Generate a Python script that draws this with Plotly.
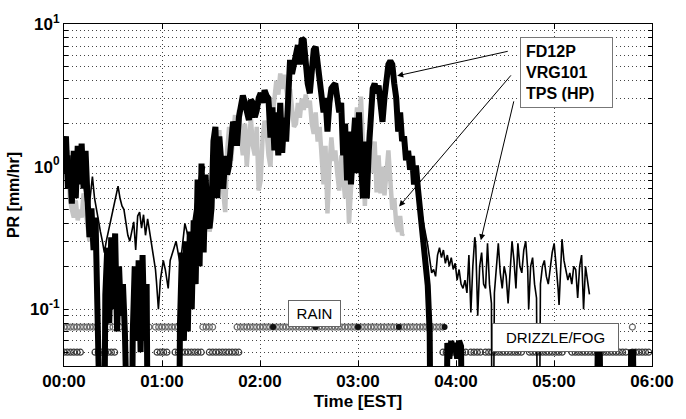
import math
import plotly.graph_objects as go

# ---------------- data (time in minutes after 00:00 EST, PR in mm/hr; 0 = no precipitation) ----------------
fd_t = [0.0, 1.2, 2.4, 3.6, 4.8, 6.0, 7.2, 8.4, 9.6, 10.8, 12.0, 13.2, 14.4, 15.6, 16.8, 18.1, 19.3, 20.5,
        21.7, 22.9, 24.1, 25.3, 26.5, 27.7, 28.9, 30.1, 31.3, 32.5, 33.7, 34.9, 36.1, 37.3, 38.5, 40.9,
        42.1, 43.3, 44.5, 45.7, 46.9, 48.1, 49.3, 50.6, 51.8, 69.8,
        71.0, 72.2, 73.4, 74.6, 75.8, 77.0, 78.2, 79.4, 80.6, 81.8, 83.0, 84.2, 85.5, 86.7, 87.9, 89.1,
        90.3, 91.5, 92.7, 93.9, 95.1, 96.3, 97.5, 98.7, 99.9, 101.1, 102.3, 103.5, 104.7, 105.9, 107.1,
        108.3, 109.5, 110.7, 111.9, 113.2, 114.4, 115.6, 116.8, 118.0, 119.2, 120.4, 121.6, 122.8, 124.0,
        125.2, 126.4, 127.6, 128.8, 130.0, 131.2, 132.4, 133.6, 134.8, 136.0, 137.2, 138.4, 139.6, 140.8,
        142.0, 143.2, 144.4, 145.6, 146.8, 148.0, 149.2, 150.5, 151.7, 152.9, 154.1, 155.3, 156.5, 157.7,
        158.9, 160.1, 161.3, 162.5, 163.7, 164.9, 166.1, 167.3, 168.5, 169.7, 170.9, 172.1, 173.3, 174.5,
        175.7, 177.0, 178.2, 179.4, 180.6, 181.8, 183.0, 184.2, 185.4, 186.6, 187.8, 189.0, 190.2, 191.4,
        192.6, 193.8, 195.0, 196.2, 197.4, 198.6, 199.8, 201.0, 202.2, 203.4, 204.6, 205.8, 207.0, 208.2,
        209.4, 210.7, 211.9, 213.1, 214.3, 215.5, 216.7, 217.9, 219.1, 220.3, 221.5, 222.7, 223.9, 225.1,
        233.5, 234.7, 235.9, 237.1, 238.3, 239.5, 240.7, 241.9, 243.1, 244.3,
        325.0, 326.8, 328.0, 329.8, 346.0, 347.2, 348.4, 350.2]
fd_v = [1.29, 1.63, 0.70, 1.11, 0.55, 1.29, 0.60, 1.40, 0.75, 1.45, 0.70, 1.29, 0.60, 0.32, 0.51, 0.26, 0.44, 0.17,
        0.093, 0, 0, 0.126, 0.27, 0.08, 0.32, 0.10, 0.34, 0.07, 0.20, 0.09, 0.15, 0.068, 0, 0,
        0.068, 0.20, 0.06, 0.22, 0.05, 0.24, 0.06, 0.15, 0, 0,
        0.079, 0.25, 0.06, 0.30, 0.07, 0.35, 0.10, 0.42, 0.15, 0.81, 0.20, 1.05, 0.25, 0.88, 0.40, 0.37,
        0.51, 1.51, 1.90, 0.60, 1.63, 0.95, 0.70, 1.19, 0.88, 1.02, 1.51, 2.06, 1.90, 1.40, 2.22,
        2.90, 3.15, 2.80, 2.48, 2.12, 2.94, 2.80, 2.22, 2.48, 3.03, 3.27, 2.80, 3.43, 3.15,
        3.00, 1.60, 2.60, 1.30, 2.40, 1.20, 2.80, 1.25, 2.20, 1.50, 3.82, 5.60, 4.47, 5.40,
        6.10, 7.10, 5.20, 7.90, 7.70, 5.20, 3.82, 3.27, 5.20, 6.60, 6.90, 5.20, 3.82, 3.27,
        2.40, 3.03, 1.76, 2.80, 3.54, 3.70, 3.82, 3.03, 2.40, 2.80, 1.20, 2.00, 0.80, 1.76,
        0.75, 1.40, 2.20, 0.90, 2.40, 1.10, 0.60, 1.50, 0.60, 1.29, 2.80, 3.54, 3.82, 3.27,
        3.70, 2.80, 2.06, 3.03, 4.47, 5.20, 5.50, 5.20, 3.82, 3.03, 1.76, 2.40, 1.51, 1.63,
        1.11, 1.29, 0.95, 1.19, 0.75, 1.02, 0.70, 0.51, 0.44, 0.32, 0.25, 0.147, 0.068, 0,
        0, 0.058, 0.045, 0.060, 0.050, 0.058, 0.045, 0.060, 0.055, 0,
        0, 0.055, 0.055, 0, 0, 0.050, 0.050, 0]

vrg_t = [0.0, 1.2, 2.4, 3.6, 4.8, 6.0, 7.2, 8.4, 9.6, 10.8, 12.0, 13.2, 14.4, 15.6, 16.8, 18.1,
         45.0,
         72.2, 73.4, 74.6, 75.8, 77.0, 78.2, 79.4, 80.6, 81.8, 83.0, 84.2, 85.5, 86.7, 87.9, 89.1, 90.3,
         91.5, 92.7, 93.9, 95.1, 96.3, 97.5, 98.7, 99.9, 101.1, 102.3, 103.5, 104.7, 105.9, 107.1, 108.3,
         109.5, 110.7, 111.9, 113.2, 114.4, 115.6, 116.8, 118.0, 119.2, 120.4, 121.6, 122.8, 124.0, 125.2,
         126.4, 127.6, 128.8, 130.0, 131.2, 132.4, 133.6, 134.8, 136.0, 137.2, 138.4, 139.6, 140.8, 142.0,
         143.2, 144.4, 145.6, 146.8, 148.0, 149.2, 150.5, 151.7, 152.9, 154.1, 155.3, 156.5, 157.7, 158.9,
         160.1, 161.3, 162.5, 163.7, 164.9, 166.1, 167.3, 168.5, 169.7, 170.9, 172.1, 173.3, 174.5, 175.7,
         177.0, 178.2, 179.4, 180.6, 181.8, 183.0, 184.2, 185.4, 186.6, 187.8, 189.0, 190.2, 191.4, 192.6,
         193.8, 195.0, 196.2, 197.4, 198.6, 199.8, 201.0, 202.2, 203.4, 204.6, 205.8, 207.0, 207.6]
vrg_v = [1.60, 0.90, 1.30, 0.60, 0.50, 0.44, 0.58, 0.42, 0.50, 0.44, 0.65, 0.50, 0.42, 0.30, 0.35, 0.26,
         None,
         0.12, 0.20, 0.18, 0.22, 0.30, 0.25, 0.40, 0.35, 0.60, 0.80, 0.60, 0.50, 0.70, 0.45, 0.35, 0.42,
         0.90, 1.50, 1.20, 1.80, 0.90, 0.60, 0.48, 1.30, 1.90, 1.10, 1.70, 2.30, 1.40, 2.50, 1.60,
         1.20, 2.00, 1.00, 1.60, 2.20, 1.40, 1.20, 1.90, 0.68, 0.80, 1.60, 2.10, 1.80, 1.20,
         1.00, 2.20, 3.00, 4.00, 3.20, 4.50, 3.50, 4.40, 3.60, 2.80, 3.50, 2.60, 1.90, 2.00,
         2.80, 2.20, 3.00, 2.50, 3.20, 2.60, 2.90, 2.00, 1.70, 2.40, 1.50, 1.90, 1.20, 0.75,
         1.40, 0.47, 1.00, 1.60, 1.10, 1.30, 0.90, 0.68, 1.20, 0.80, 0.60, 0.90, 0.40, 0.70,
         1.20, 1.80, 2.60, 1.90, 3.10, 1.50, 0.53, 1.10, 1.80, 1.30, 0.90, 1.50, 0.66, 1.20,
         0.65, 1.00, 0.63, 0.90, 1.30, 0.80, 0.50, 0.60, 0.40, 0.35, 0.45, 0.33, 0.34]

tps_t = [0.0, 1.2, 2.4, 3.6, 4.8, 6.0, 7.2, 8.4, 9.6, 10.8, 12.0, 13.2, 14.4, 15.6, 16.8, 17.4, 18.7, 19.9,
         21.1, 22.3, 23.5, 24.7, 25.9, 27.1, 28.3, 29.5, 30.7, 31.9, 33.1, 34.3, 35.5, 36.7, 37.9, 39.1,
         40.3, 41.5, 42.7, 43.9, 45.1, 46.3, 47.5, 48.7, 49.9, 51.2, 52.4, 53.6, 54.8, 56.0, 56.6, 57.8,
         59.0, 60.2, 60.8, 62.0, 63.2, 63.8, 65.0, 66.2, 67.4, 68.6, 69.8, 71.0, 72.2, 74.0, 75.8, 77.6,
         78.8, 80.0, 81.2, 82.4, 83.6, 84.8, 86.1,
         150.0,
         217.3, 219.1, 220.9, 222.7, 223.9, 225.1, 226.3, 227.5, 228.7, 229.9, 231.1, 232.3, 233.5, 234.7,
         235.9, 237.1, 238.3, 239.5, 240.7, 241.9, 243.1, 244.3, 245.5, 246.7, 247.9, 249.1, 250.3, 251.5,
         252.1, 253.3, 254.5, 255.7, 256.9, 258.1, 259.3, 260.5, 261.7, 262.3, 263.5, 264.7, 265.9, 267.1,
         268.3, 269.5, 270.7, 271.9, 273.1, 274.3, 275.5, 276.7, 277.9, 279.1, 280.3, 281.5, 282.7, 283.9,
         284.5, 285.7, 286.9, 288.1, 289.3, 290.5, 291.7, 292.9, 294.1, 295.3, 296.5, 297.7, 298.9, 300.1,
         301.3, 302.5, 303.1, 304.3, 304.9, 306.1, 307.3, 308.5, 309.7, 310.9, 312.1, 313.3, 314.5, 315.7,
         316.9, 317.5, 318.1, 319.3, 320.5, 321.7]
tps_v = [0.90, 1.30, 0.80, 1.20, 0.70, 1.10, 0.80, 1.30, 0.90, 1.20, 0.75, 0.60, 0.45, 0.55, 0.70, 0.85, 0.60, 0.50,
         0.40, 0.35, 0.30, 0.25, 0.30, 0.35, 0.40, 0.45, 0.55, 0.65, 0.73, 0.60, 0.53, 0.50, 0.40, 0.33,
         0.30, 0.36, 0.41, 0.26, 0.45, 0.48, 0.37, 0.46, 0.33, 0.43, 0.35, 0.29, 0.23, 0.19, 0.157, 0.10,
         0.16, 0.20, 0.22, 0.19, 0.16, 0.14, 0.22, 0.24, 0.27, 0.30, 0.25, 0.21, 0.26, 0.40, 0.33, 0.29,
         0.40, 0.50, 0.65, 0.80, 0.95, 0.85, 1.00,
         None,
         0.60, 0.45, 0.36, 0.28, 0.22, 0.18, 0.19, 0.17, 0.24, 0.27, 0.23, 0.26, 0.21, 0.24,
         0.20, 0.23, 0.19, 0.21, 0.16, 0.19, 0.15, 0.14, 0.16, 0.13, 0.24, 0.095, 0.20, 0.32,
         0.28, 0.09, 0.20, 0.25, 0.15, 0.14, 0.29, 0.15, 0.11, 0, 0.13, 0.20, 0.29, 0.18,
         0.14, 0.20, 0.17, 0.11, 0.20, 0.30, 0.22, 0.14, 0.29, 0.20, 0.18, 0.26, 0.30, 0.19,
         0.10, 0.20, 0.23, 0.15, 0.12, 0, 0.15, 0.20, 0.22, 0.17, 0.15, 0.20, 0.25, 0.29,
         0.21, 0.14, 0.107, 0.24, 0.31, 0.22, 0.19, 0.16, 0.18, 0.15, 0.20, 0.19, 0.12, 0.20,
         0.24, 0.17, 0.10, 0.20, 0.16, 0.127]

# present-weather classification, run-length segments (start minute, end minute)
rain_segments = [(0, 20), (28, 31), (34, 34), (44, 52), (56, 70), (85, 91), (106, 233), (348, 348)]
rain_dark = [128, 154, 180, 205, 233]
drizzle_segments = [(0, 11), (19, 31), (57, 64), (68, 85), (89, 108), (232, 246), (249, 255), (258, 280),
                    (285, 306), (311, 327), (330, 345), (348, 359)]
RAIN_LEVEL = 0.075
DRIZZLE_LEVEL = 0.05

hour_ticks = [0, 60, 120, 180, 240, 300, 360]
hour_labels = ["00:00", "01:00", "02:00", "03:00", "04:00", "05:00", "06:00"]

# ---------------- helpers ----------------
FLOOR = 1e-3  # zero rain drawn below the log axis


def on_log(vals):
    return [None if v is None else (v if v > 0 else FLOOR) for v in vals]


def expand(segs, step=2):
    out = []
    for a, b in segs:
        out.extend(range(a, b + 1, step))
    return out


FONT = "Liberation Sans, Arial, Helvetica, sans-serif"
GRID_DASH = "1px,3px"

fig = go.Figure()

rx = expand(rain_segments)
dx = expand(drizzle_segments)
fig.add_trace(go.Scatter(x=rx, y=[RAIN_LEVEL] * len(rx), mode="markers",
                         marker=dict(symbol="circle-open", size=6, color="#6a6a6a", line=dict(width=1.2)),
                         showlegend=False, hoverinfo="skip"))
fig.add_trace(go.Scatter(x=rain_dark, y=[RAIN_LEVEL] * len(rain_dark), mode="markers",
                         marker=dict(symbol="circle", size=6, color="#111"),
                         showlegend=False, hoverinfo="skip"))
fig.add_trace(go.Scatter(x=dx, y=[DRIZZLE_LEVEL] * len(dx), mode="markers",
                         marker=dict(symbol="circle-open", size=6, color="#3a3a3a", line=dict(width=1.2)),
                         showlegend=False, hoverinfo="skip"))

fig.add_trace(go.Scatter(x=vrg_t, y=on_log(vrg_v), mode="lines", name="VRG101",
                         line=dict(color="#c4c4c4", width=4.5), connectgaps=False, showlegend=False))
fig.add_trace(go.Scatter(x=fd_t, y=on_log(fd_v), mode="lines", name="FD12P",
                         line=dict(color="#000000", width=6), showlegend=False))
fig.add_trace(go.Scatter(x=tps_t, y=on_log(tps_v), mode="lines", name="TPS (HP)",
                         line=dict(color="#000000", width=1.6), connectgaps=False, showlegend=False))

# y ticks: decades labelled, minor positions as unlabeled grid/ticks
y_tickvals, y_ticktext = [], []
for e in (-2, -1, 0):
    for m in range(1, 10):
        v = m * 10 ** e
        if v < 0.04 - 1e-9:
            continue
        y_tickvals.append(v)
        y_ticktext.append(f"10<sup>{e}</sup>" if m == 1 else "")
y_tickvals.append(10)
y_ticktext.append("10<sup>1</sup>")

fig.update_layout(
    width=686, height=419,
    margin=dict(l=64, r=24, t=18, b=45),
    paper_bgcolor="white", plot_bgcolor="white",
    font=dict(family=FONT, color="black"),
    xaxis=dict(range=[0, 360], tickvals=hour_ticks, ticktext=hour_labels,
               tickfont=dict(size=17, family=FONT, weight="bold"),
               showgrid=True, gridcolor="#444", griddash=GRID_DASH, gridwidth=1,
               ticks="inside", ticklen=5, tickcolor="black",
               showline=True, linecolor="black", linewidth=1, mirror="ticks", zeroline=False,
               title=dict(text="Time [EST]", font=dict(size=17, weight="bold"), standoff=4)),
    yaxis=dict(type="log", range=[math.log10(0.04), 1], tickvals=y_tickvals, ticktext=y_ticktext,
               tickfont=dict(size=17, family=FONT, weight="bold"),
               showgrid=True, gridcolor="#444", griddash=GRID_DASH, gridwidth=1,
               ticks="inside", ticklen=4, tickcolor="black",
               showline=True, linecolor="black", linewidth=1, mirror="ticks", zeroline=False,
               title=dict(text="PR [mm/hr]", font=dict(size=16, weight="bold"), standoff=6)),
)

L = math.log10
anns = [
    dict(x=307.5, y=L(4.6), xref="x", yref="y", showarrow=False, align="left", width=81,
         text="FD12P<br>VRG101<br>TPS (HP)", font=dict(size=16, weight="bold", family=FONT),
         bgcolor="white", bordercolor="#777", borderwidth=1, borderpad=5),
    dict(x=204.0, y=L(4.33), ax=272.6, ay=L(6.47), xref="x", yref="y", axref="x", ayref="y",
         text="", showarrow=True, arrowhead=2, arrowsize=1.2, arrowwidth=1, arrowcolor="black"),
    dict(x=205.2, y=L(0.526), ax=274.4, ay=L(4.47), xref="x", yref="y", axref="x", ayref="y",
         text="", showarrow=True, arrowhead=2, arrowsize=1.2, arrowwidth=1, arrowcolor="black"),
    dict(x=255.2, y=L(0.305), ax=275.6, ay=L(2.94), xref="x", yref="y", axref="x", ayref="y",
         text="", showarrow=True, arrowhead=2, arrowsize=1.2, arrowwidth=1, arrowcolor="black"),
    dict(x=153.5, y=L(0.093), xref="x", yref="y", showarrow=False, text="RAIN", width=43,
         font=dict(size=15, family=FONT), bgcolor="white", bordercolor="#666", borderwidth=1, borderpad=4),
    dict(x=301.0, y=L(0.063), xref="x", yref="y", showarrow=False, text="DRIZZLE/FOG", width=115,
         font=dict(size=15, family=FONT), bgcolor="white", bordercolor="#666", borderwidth=1, borderpad=5),
]
fig.update_layout(annotations=anns)

fig.write_html("out.html")
